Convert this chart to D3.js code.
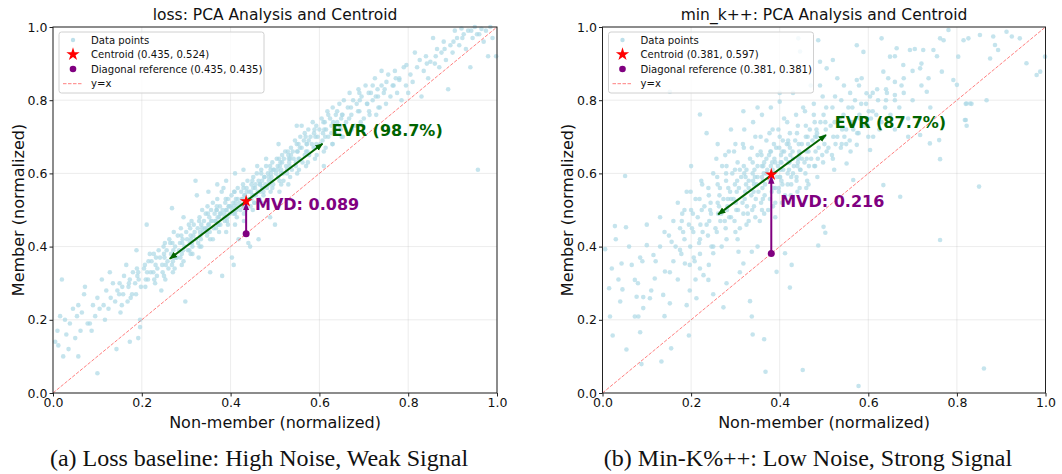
<!DOCTYPE html>
<html><head><meta charset="utf-8">
<script src="https://cdn.jsdelivr.net/npm/d3@7"></script>
<style>html,body{margin:0;padding:0;background:#fff}svg{display:block}</style>
</head><body><svg id="c" width="1062" height="474"></svg>
<script>
const panelTitles = ["loss: PCA Analysis and Centroid", "min_k++: PCA Analysis and Centroid"];
const captions = ["(a) Loss baseline: High Noise, Weak Signal", "(b) Min-K%++: Low Noise, Strong Signal"];
const tickValues = [0.0, 0.2, 0.4, 0.6, 0.8, 1.0];
const xLabel = "Non-member (normalized)";
const yLabel = "Member (normalized)";
const centroids = [[0.435, 0.524], [0.381, 0.597]];
const diagRefs = [[0.435, 0.435], [0.381, 0.381]];
const pcaStart = [[0.263, 0.367], [0.261, 0.488]];
const pcaEnd = [[0.607, 0.681], [0.5045, 0.705]];
const evrLabels = ["EVR (98.7%)", "EVR (87.7%)"];
const mvdLabels = ["MVD: 0.089", "MVD: 0.216"];

const lossPoints = [
[0.005,0.14],[0.01,0.17],[0.012,0.13],[0.016,0.21],[0.02,0.31],[0.023,0.10],[0.027,0.20],[0.03,0.16],[0.035,0.12],[0.038,0.19],
[0.045,0.23],[0.05,0.15],[0.054,0.21],[0.057,0.10],[0.057,0.24],[0.062,0.17],[0.065,0.22],[0.07,0.27],[0.072,0.29],[0.078,0.19],
[0.083,0.19],[0.087,0.17],[0.09,0.24],[0.095,0.21],[0.1,0.054],[0.1,0.26],[0.105,0.23],[0.11,0.31],[0.114,0.24],[0.117,0.20],
[0.12,0.28],[0.125,0.23],[0.128,0.33],[0.13,0.26],[0.135,0.30],[0.14,0.25],[0.143,0.12],[0.145,0.28],[0.15,0.30],[0.155,0.24],
[0.158,0.27],[0.16,0.32],[0.165,0.35],[0.17,0.29],[0.173,0.31],[0.173,0.14],[0.178,0.27],[0.18,0.33],[0.185,0.30],[0.188,0.39],
[0.19,0.32],[0.192,0.33],[0.196,0.20],[0.196,0.18],[0.192,0.15],[0.198,0.29],
[0.205,0.34],[0.207,0.35],[0.211,0.46],[0.214,0.31],[0.218,0.38],[0.22,0.33],[0.222,0.36],[0.226,0.33],[0.23,0.30],[0.232,0.37],
[0.235,0.34],[0.238,0.39],[0.241,0.37],[0.244,0.28],[0.246,0.35],[0.25,0.38],[0.252,0.41],[0.256,0.39],[0.258,0.36],[0.26,0.34],
[0.262,0.42],[0.264,0.41],[0.266,0.38],[0.268,0.505],[0.27,0.36],[0.272,0.44],[0.275,0.40],[0.277,0.37],[0.279,0.37],[0.281,0.43],
[0.284,0.39],[0.286,0.41],[0.288,0.45],[0.29,0.38],[0.292,0.42],[0.294,0.48],[0.296,0.40],[0.298,0.25],[0.3,0.44],[0.302,0.42],
[0.304,0.39],[0.306,0.46],[0.308,0.41],[0.31,0.43],[0.312,0.47],[0.314,0.40],[0.317,0.46],[0.319,0.44],[0.321,0.58],[0.322,0.42],
[0.324,0.54],[0.326,0.45],[0.328,0.37],[0.33,0.48],[0.332,0.43],[0.334,0.46],[0.336,0.50],[0.338,0.44],[0.34,0.47],[0.342,0.45],
[0.344,0.49],[0.346,0.44],[0.348,0.51],
[0.35,0.46],[0.352,0.48],[0.354,0.33],[0.356,0.50],[0.358,0.47],[0.36,0.52],[0.362,0.45],[0.364,0.49],[0.366,0.47],[0.368,0.50],
[0.369,0.50],[0.37,0.53],[0.372,0.46],[0.374,0.48],[0.376,0.51],[0.377,0.46],[0.378,0.49],[0.38,0.55],[0.381,0.32],[0.382,0.50],
[0.384,0.56],[0.386,0.48],[0.388,0.52],[0.39,0.50],[0.392,0.47],[0.394,0.53],[0.396,0.51],[0.398,0.49],[0.4,0.51],[0.402,0.54],
[0.403,0.37],[0.404,0.50],[0.406,0.52],[0.407,0.35],[0.408,0.55],[0.41,0.49],[0.412,0.53],[0.414,0.51],[0.416,0.56],[0.418,0.42],
[0.42,0.52],[0.422,0.50],[0.424,0.55],[0.426,0.53],[0.428,0.57],[0.429,0.61],[0.43,0.51],[0.432,0.54],[0.434,0.52],[0.436,0.56],
[0.438,0.58],[0.44,0.41],[0.44,0.53],[0.442,0.55],[0.444,0.40],[0.445,0.51],[0.447,0.57],[0.449,0.54],[0.451,0.59],[0.453,0.52],
[0.455,0.56],[0.457,0.54],[0.459,0.60],[0.461,0.55],[0.463,0.42],[0.463,0.58],[0.465,0.53],[0.467,0.57],[0.469,0.61],[0.471,0.56],
[0.474,0.55],[0.476,0.59],[0.478,0.57],[0.48,0.62],[0.482,0.56],[0.484,0.60],[0.486,0.58],[0.489,0.48],[0.49,0.61],[0.492,0.59],
[0.494,0.63],[0.496,0.57],[0.498,0.61],[0.5,0.46],
[0.502,0.60],[0.504,0.64],[0.506,0.62],[0.508,0.68],[0.51,0.58],[0.512,0.63],[0.514,0.61],[0.516,0.65],[0.518,0.60],[0.519,0.58],
[0.52,0.64],[0.523,0.66],[0.525,0.62],[0.527,0.60],[0.53,0.65],[0.532,0.63],[0.534,0.64],[0.536,0.67],[0.538,0.61],[0.54,0.66],
[0.542,0.64],[0.545,0.69],[0.547,0.62],[0.549,0.73],[0.55,0.66],[0.553,0.68],[0.555,0.64],[0.557,0.70],[0.56,0.67],[0.562,0.63],
[0.565,0.69],[0.567,0.71],[0.57,0.66],[0.572,0.68],[0.575,0.72],[0.577,0.65],[0.58,0.70],[0.583,0.68],[0.585,0.74],[0.588,0.71],
[0.59,0.67],[0.593,0.73],[0.596,0.70],[0.6,0.72],[0.602,0.68],[0.605,0.75],[0.608,0.71],[0.61,0.62],[0.612,0.74],[0.615,0.72],
[0.618,0.77],[0.62,0.70],[0.624,0.75],[0.627,0.73],[0.63,0.78],[0.634,0.71],[0.637,0.76],[0.64,0.74],[0.645,0.79],[0.648,0.72],
[0.652,0.76],[0.655,0.80],[0.66,0.74],[0.664,0.78],[0.668,0.82],[0.672,0.76],[0.676,0.80],[0.68,0.73],[0.684,0.79],[0.688,0.83],
[0.69,0.77],[0.695,0.81],[0.70,0.75],[0.704,0.84],[0.708,0.79],[0.712,0.77],[0.716,0.82],[0.72,0.80],[0.725,0.86],[0.728,0.76],
[0.732,0.81],[0.736,0.78],[0.74,0.84],[0.745,0.82],[0.75,0.79],[0.755,0.87],[0.76,0.81],[0.765,0.84],[0.77,0.88],[0.775,0.82],
[0.78,0.86],[0.785,0.80],[0.79,0.89],[0.795,0.84],[0.8,0.82],[0.69,0.82],[0.72,0.84],[0.74,0.88],[0.78,0.855],[0.796,0.896],
[0.805,0.87],[0.81,0.85],[0.815,0.93],[0.82,0.89],[0.826,0.91],[0.83,0.81],[0.835,0.88],[0.84,0.92],[0.845,0.86],[0.85,0.905],
[0.856,0.97],[0.86,0.90],[0.865,0.94],[0.87,0.89],[0.875,0.93],[0.88,0.96],[0.885,0.91],[0.89,0.83],[0.895,0.95],[0.9,0.93],
[0.905,0.99],[0.91,0.97],[0.915,0.95],[0.92,0.996],[0.925,0.98],[0.93,0.94],[0.935,0.99],[0.94,0.89],[0.945,0.97],[0.95,1.0],
[0.955,0.98],[0.957,0.61],[0.96,0.98],[0.965,0.995],[0.97,0.96],[0.975,0.99],[0.98,0.92],[0.985,1.0],[0.99,0.97],[0.998,0.92],
[0.35,0.55],[0.37,0.57],[0.39,0.58],[0.41,0.60],[0.43,0.49],[0.45,0.50],[0.47,0.52],[0.49,0.55],[0.51,0.55],[0.53,0.57],
[0.55,0.60],[0.57,0.62],[0.59,0.64],[0.61,0.66],[0.63,0.68],[0.65,0.70],[0.56,0.73],[0.62,0.76],[0.64,0.77],[0.36,0.42],
[0.33,0.40],[0.31,0.38],[0.29,0.35],[0.27,0.33],[0.25,0.32],[0.39,0.44],[0.41,0.46],[0.43,0.47],[0.46,0.62],[0.48,0.64],
[0.152,0.22],[0.149,0.27],[0.156,0.29],[0.168,0.25],[0.171,0.30],[0.175,0.26],[0.187,0.27],[0.193,0.31],[0.189,0.34],
[0.208,0.29],[0.212,0.33],[0.215,0.36],[0.209,0.31],[0.228,0.31],[0.231,0.35],[0.234,0.32],[0.227,0.38],
[0.247,0.33],[0.251,0.37],[0.254,0.35],[0.249,0.40],[0.253,0.31],[0.268,0.35],[0.271,0.39],[0.273,0.37],[0.269,0.41],[0.274,0.34],
[0.287,0.37],[0.291,0.41],[0.293,0.39],[0.289,0.43],[0.294,0.36],[0.307,0.39],[0.311,0.42],[0.313,0.41],[0.309,0.45],[0.314,0.38],[0.316,0.43],
[0.327,0.41],[0.331,0.44],[0.333,0.42],[0.329,0.47],[0.334,0.40],[0.336,0.45],
[0.347,0.43],[0.351,0.46],[0.353,0.44],[0.349,0.49],[0.354,0.42],[0.356,0.47],[0.346,0.45],
[0.367,0.45],[0.371,0.48],[0.373,0.46],[0.369,0.51],[0.374,0.44],[0.376,0.49],[0.366,0.47],
[0.387,0.47],[0.391,0.50],[0.393,0.48],[0.389,0.53],[0.394,0.46],[0.396,0.51],[0.386,0.49],
[0.407,0.49],[0.411,0.52],[0.413,0.50],[0.409,0.55],[0.414,0.48],[0.416,0.53],[0.406,0.51],
[0.427,0.51],[0.431,0.54],[0.433,0.52],[0.429,0.56],[0.434,0.50],[0.436,0.55],[0.426,0.53],
[0.447,0.53],[0.451,0.56],[0.453,0.54],[0.449,0.58],[0.454,0.52],[0.456,0.57],[0.446,0.55],
[0.467,0.55],[0.471,0.58],[0.473,0.56],[0.469,0.60],[0.474,0.54],[0.476,0.59],[0.466,0.57],
[0.487,0.57],[0.491,0.60],[0.493,0.58],[0.489,0.62],[0.494,0.56],[0.496,0.61],[0.486,0.59],
[0.507,0.59],[0.511,0.62],[0.513,0.60],[0.509,0.64],[0.514,0.57],[0.516,0.63],[0.506,0.61],
[0.527,0.61],[0.531,0.64],[0.533,0.62],[0.529,0.66],[0.534,0.59],[0.536,0.65],
[0.547,0.63],[0.551,0.66],[0.553,0.64],[0.549,0.68],[0.554,0.61],[0.556,0.67],
[0.567,0.65],[0.571,0.68],[0.573,0.66],[0.569,0.70],[0.574,0.63],[0.576,0.69],
[0.587,0.67],[0.591,0.70],[0.593,0.68],[0.589,0.72],[0.594,0.65],[0.607,0.69],[0.611,0.72],[0.613,0.70],[0.609,0.74],[0.614,0.67],
[0.627,0.71],[0.631,0.74],[0.633,0.72],[0.629,0.68],[0.647,0.73],[0.651,0.76],[0.653,0.70],[0.649,0.75],
[0.667,0.75],[0.671,0.78],[0.673,0.72],[0.687,0.77],[0.691,0.80],[0.693,0.74],[0.707,0.79],[0.711,0.82],[0.713,0.76],
[0.727,0.81],[0.731,0.83],[0.733,0.78],[0.747,0.83],[0.751,0.85],[0.767,0.84],[0.772,0.86],
[0.842,0.90],[0.862,0.92],[0.882,0.94],[0.902,0.96],[0.922,0.97],[0.942,0.99]
];

const minkPoints = [
[0.051,0.593],[0.028,0.456],[0.053,0.453],[0.006,0.393],[0.021,0.34],[0.043,0.354],[0.066,0.35],[0.015,0.286],[0.045,0.283],[0.036,0.31],
[0.073,0.309],[0.077,0.263],[0.092,0.262],[0.107,0.259],[0.073,0.209],[0.081,0.209],[0.017,0.209],[0.023,0.157],[0.085,0.166],[0.054,0.119],
[0.088,0.079],[0.133,0.086],[0.155,0.122],[0.195,0.157],[0.092,0.232],[0.137,0.268],[0.152,0.245],[0.141,0.332],[0.152,0.33],[0.118,0.313],
[0.115,0.377],[0.085,0.37],[0.1,0.404],[0.13,0.4],[0.156,0.413],[0.175,0.391],[0.186,0.354],[0.197,0.35],[0.208,0.36],[0.22,0.34],
[0.228,0.322],[0.239,0.309],[0.212,0.259],[0.197,0.28],[0.25,0.382],[0.269,0.4],[0.307,0.386],[0.337,0.386],[0.318,0.354],[0.337,0.209],
[0.333,0.251],[0.273,0.234],[0.339,0.16],[0.368,0.058],[0.365,0.147],[0.393,0.331],[0.412,0.382],[0.427,0.35],[0.423,0.288],[0.452,0.063],
[0.487,0.403],[0.503,0.438],[0.499,0.454],[0.578,0.019],[0.634,0.568],[0.672,0.536],[0.762,0.418],[0.762,0.639],[0.85,0.564],[0.861,0.067],
[0.83,0.791],[0.82,0.79],[0.82,0.746],[0.822,0.73],[0.739,0.682],[0.76,0.691],[0.717,0.705],[0.66,0.72],[0.604,0.664],[0.574,0.678],
[0.551,0.627],[0.55,0.68],[0.566,0.582],[0.611,0.7],
[0.152,0.823],[0.22,0.761],[0.235,0.71],[0.318,0.77],[0.4,0.796],[0.442,0.969],[0.446,0.933],[0.487,0.964],[0.491,0.905],[0.506,0.887],
[0.491,0.84],[0.52,0.91],[0.574,0.855],[0.574,0.95],[0.589,0.932],[0.63,0.969],[0.634,0.878],[0.649,0.919],[0.664,0.942],[0.679,0.896],
[0.694,0.937],[0.705,0.94],[0.717,0.887],[0.724,0.937],[0.747,0.937],[0.755,0.92],[0.762,0.969],[0.77,0.964],[0.781,0.992],[0.766,0.878],
[0.792,0.855],[0.803,0.919],[0.815,0.964],[0.826,0.969],[0.852,0.978],[0.882,0.974],[0.886,0.951],[0.893,0.937],[0.875,0.914],[0.912,0.987],
[0.924,0.974],[0.942,0.969],[0.957,0.901],[0.988,0.878],[0.98,0.869],[0.999,0.919],[0.822,0.791],[0.833,0.79],[0.867,0.8],[0.818,0.746],
[0.8,0.842],[0.736,0.86],[0.72,0.84],[0.732,0.823],[0.675,0.84],[0.66,0.814],[0.64,0.83],[0.61,0.82],[0.596,0.819],
[0.15,0.43],[0.16,0.47],[0.165,0.40],[0.17,0.52],[0.175,0.45],[0.18,0.49],[0.185,0.42],[0.19,0.55],[0.195,0.46],[0.2,0.50],
[0.205,0.44],[0.21,0.53],[0.215,0.48],[0.22,0.42],[0.225,0.57],[0.23,0.51],[0.235,0.46],[0.24,0.54],[0.245,0.49],[0.25,0.60],
[0.255,0.45],[0.26,0.52],
[0.265,0.56],[0.268,0.49],[0.27,0.62],[0.273,0.53],[0.276,0.47],[0.279,0.58],[0.282,0.51],[0.285,0.66],[0.288,0.55],[0.29,0.48],
[0.293,0.60],[0.296,0.53],[0.299,0.57],[0.302,0.50],[0.305,0.63],[0.308,0.56],[0.31,0.45],[0.313,0.59],[0.316,0.52],[0.319,0.67],
[0.322,0.55],[0.325,0.61],[0.328,0.49],[0.33,0.58],[0.333,0.64],[0.336,0.54],[0.339,0.60],[0.342,0.51],[0.345,0.70],[0.348,0.57],
[0.35,0.62],[0.352,0.55],[0.355,0.47],[0.357,0.66],[0.36,0.59],[0.362,0.53],[0.365,0.63],[0.367,0.57],[0.37,0.69],[0.372,0.61],
[0.374,0.50],[0.376,0.65],[0.378,0.58],[0.38,0.62],[0.382,0.55],[0.384,0.72],[0.386,0.60],[0.388,0.64],[0.39,0.52],[0.392,0.67],
[0.394,0.59],[0.396,0.62],[0.398,0.56],[0.4,0.70],[0.402,0.63],[0.404,0.58],[0.406,0.66],[0.408,0.61],[0.41,0.75],[0.412,0.54],
[0.414,0.64],[0.416,0.68],[0.418,0.60],[0.42,0.63],[0.423,0.71],[0.426,0.57],[0.429,0.66],[0.432,0.62],[0.435,0.69],[0.438,0.59],
[0.441,0.73],[0.444,0.65],[0.447,0.61],[0.45,0.68],[0.453,0.78],[0.456,0.63],[0.459,0.70],[0.462,0.58],[0.465,0.66],[0.468,0.72],
[0.471,0.64],[0.474,0.69],[0.477,0.76],[0.48,0.62],[0.484,0.71],[0.488,0.67],[0.492,0.74],[0.496,0.65],[0.5,0.70],
[0.26,0.57],[0.28,0.62],[0.30,0.68],[0.32,0.72],[0.34,0.74],[0.36,0.76],[0.38,0.78],[0.40,0.82],[0.30,0.44],[0.33,0.47],
[0.36,0.50],[0.39,0.48],[0.42,0.52],[0.44,0.55],[0.46,0.56],[0.28,0.42],[0.25,0.40],[0.22,0.38],[0.31,0.61],[0.33,0.56],
[0.35,0.65],[0.37,0.60],[0.39,0.63],[0.41,0.66],[0.43,0.60],[0.45,0.64],[0.34,0.58],[0.36,0.62],[0.38,0.66],[0.40,0.59],
[0.42,0.68],[0.44,0.62],[0.46,0.66],[0.48,0.70],[0.37,0.64],[0.39,0.56],[0.35,0.59],[0.43,0.64],[0.32,0.60],[0.29,0.53],
[0.505,0.78],[0.51,0.67],[0.515,0.73],[0.52,0.64],[0.525,0.81],[0.53,0.70],[0.535,0.75],[0.54,0.68],[0.545,0.84],[0.55,0.72],
[0.555,0.78],[0.56,0.66],[0.565,0.74],[0.57,0.80],[0.575,0.71],[0.58,0.76],[0.585,0.86],[0.59,0.73],[0.595,0.79],[0.6,0.70],
[0.61,0.77],[0.62,0.83],[0.63,0.74],[0.64,0.80],[0.65,0.76],[0.66,0.85],[0.67,0.78],[0.68,0.82],[0.69,0.75],[0.70,0.88],
[0.178,0.38],[0.182,0.44],[0.185,0.50],[0.179,0.47],[0.198,0.40],[0.202,0.45],[0.204,0.49],[0.199,0.55],[0.206,0.37],
[0.218,0.41],[0.221,0.46],[0.224,0.50],[0.219,0.53],[0.226,0.44],[0.223,0.58],[0.238,0.43],[0.241,0.47],[0.244,0.52],[0.239,0.56],[0.246,0.40],[0.243,0.50],
[0.258,0.44],[0.261,0.49],[0.264,0.54],[0.259,0.59],[0.266,0.47],[0.263,0.51],[0.257,0.64],
[0.278,0.45],[0.281,0.50],[0.284,0.56],[0.279,0.60],[0.286,0.48],[0.283,0.53],[0.277,0.65],
[0.298,0.47],[0.301,0.52],[0.304,0.58],[0.299,0.61],[0.306,0.50],[0.303,0.55],[0.297,0.66],[0.305,0.42],
[0.318,0.49],[0.321,0.53],[0.324,0.57],[0.319,0.62],[0.326,0.51],[0.323,0.59],[0.317,0.68],[0.325,0.46],
[0.338,0.50],[0.341,0.55],[0.344,0.59],[0.339,0.63],[0.346,0.53],[0.343,0.61],[0.337,0.67],[0.345,0.48],[0.342,0.57],
[0.358,0.52],[0.361,0.56],[0.364,0.60],[0.359,0.65],[0.366,0.54],[0.363,0.62],[0.357,0.70],[0.365,0.49],[0.362,0.58],
[0.378,0.53],[0.381,0.58],[0.384,0.61],[0.379,0.66],[0.386,0.56],[0.383,0.63],[0.377,0.71],[0.385,0.51],[0.382,0.60],[0.387,0.68],
[0.398,0.55],[0.401,0.59],[0.404,0.63],[0.399,0.67],[0.406,0.57],[0.403,0.65],[0.397,0.72],[0.405,0.52],[0.402,0.61],[0.407,0.69],
[0.418,0.57],[0.421,0.61],[0.424,0.65],[0.419,0.69],[0.426,0.59],[0.423,0.67],[0.417,0.74],[0.425,0.54],[0.422,0.63],
[0.438,0.58],[0.441,0.63],[0.444,0.66],[0.439,0.71],[0.446,0.61],[0.443,0.68],[0.437,0.76],[0.445,0.56],[0.442,0.64],
[0.458,0.60],[0.461,0.64],[0.464,0.68],[0.459,0.73],[0.466,0.62],[0.463,0.70],[0.457,0.77],[0.465,0.57],
[0.478,0.62],[0.481,0.66],[0.484,0.70],[0.479,0.74],[0.486,0.64],[0.483,0.72],[0.477,0.79],[0.485,0.59],
[0.498,0.63],[0.501,0.68],[0.504,0.72],[0.499,0.76],[0.506,0.66],[0.503,0.74],[0.497,0.81],
[0.518,0.65],[0.521,0.70],[0.524,0.74],[0.519,0.78],[0.526,0.68],[0.523,0.61],[0.538,0.67],[0.541,0.72],[0.544,0.76],[0.539,0.80],[0.546,0.70],
[0.558,0.69],[0.561,0.74],[0.564,0.78],[0.559,0.82],[0.566,0.72],[0.578,0.71],[0.581,0.75],[0.584,0.79],[0.579,0.84],
[0.598,0.73],[0.601,0.77],[0.604,0.81],[0.606,0.75],[0.618,0.76],[0.622,0.80],[0.625,0.72],[0.638,0.78],[0.642,0.82],[0.645,0.86],
[0.66,0.80],[0.68,0.86],[0.70,0.80],[0.72,0.90],[0.74,0.78],[0.66,0.92],[0.69,0.70],[0.53,0.86],[0.47,0.84],[0.43,0.82],
[0.35,0.78],[0.29,0.72],[0.26,0.68],[0.20,0.62],
[0.12,0.36],[0.14,0.44],[0.10,0.46],[0.08,0.30],[0.06,0.40],[0.16,0.36],[0.13,0.48],[0.03,0.42],[0.11,0.28],[0.17,0.31],
[0.04,0.25],[0.09,0.36],[0.14,0.21],[0.19,0.24],[0.25,0.27],[0.28,0.30],[0.31,0.33],[0.35,0.40],[0.24,0.35],[0.21,0.31]
];
const allPoints = [lossPoints, minkPoints];
const legendNames = ["Data points", "Centroid", "Diagonal reference", "y=x"];

const fmt = d3.format(".3f");
const svg = d3.select("#c");
const defs = svg.append("defs");
function mk(id, color) {
  defs.append("marker").attr("id", id).attr("viewBox", "0 0 10 10").attr("refX", 9).attr("refY", 5)
    .attr("markerWidth", 4).attr("markerHeight", 4).attr("markerUnits", "strokeWidth").attr("orient", "auto-start-reverse")
    .append("path").attr("d", "M0,1 L10,5 L0,9 z").attr("fill", color);
}
mk("ag", "#006400"); mk("ap", "#800080");

const FONT = "DejaVu Sans, sans-serif";
const panels = [{x0: 53, x1: 497}, {x0: 602.5, x1: 1045.5}];
const yTop = 27, yBot = 393;

panels.forEach((p, i) => {
  const x = d3.scaleLinear().domain([0, 1]).range([p.x0, p.x1]);
  const y = d3.scaleLinear().domain([0, 1]).range([yBot, yTop]);
  const g = svg.append("g");
  g.append("g").selectAll("line.gx").data(tickValues).join("line")
    .attr("x1", d => x(d)).attr("x2", d => x(d)).attr("y1", yTop).attr("y2", yBot)
    .attr("stroke", "#b0b0b0").attr("stroke-opacity", 0.3).attr("stroke-width", 0.8);
  g.append("g").selectAll("line.gy").data(tickValues).join("line")
    .attr("y1", d => y(d)).attr("y2", d => y(d)).attr("x1", p.x0).attr("x2", p.x1)
    .attr("stroke", "#b0b0b0").attr("stroke-opacity", 0.3).attr("stroke-width", 0.8);
  g.append("g").selectAll("circle").data(allPoints[i]).join("circle")
    .attr("cx", d => x(d[0])).attr("cy", d => y(d[1])).attr("r", 2.3)
    .attr("fill", "#add8e6").attr("fill-opacity", 0.7);
  g.append("line").attr("x1", x(0)).attr("y1", y(0)).attr("x2", x(1)).attr("y2", y(1))
    .attr("stroke", "red").attr("stroke-opacity", 0.5).attr("stroke-width", 1).attr("stroke-dasharray", "3.5,1.5");
  g.append("line").attr("x1", x(pcaStart[i][0])).attr("y1", y(pcaStart[i][1]))
    .attr("x2", x(pcaEnd[i][0])).attr("y2", y(pcaEnd[i][1]))
    .attr("stroke", "#006400").attr("stroke-width", 2)
    .attr("marker-start", "url(#ag)").attr("marker-end", "url(#ag)");
  g.append("line").attr("x1", x(diagRefs[i][0])).attr("y1", y(diagRefs[i][1]))
    .attr("x2", x(centroids[i][0])).attr("y2", y(centroids[i][1]) + 2)
    .attr("stroke", "#800080").attr("stroke-width", 2).attr("marker-end", "url(#ap)");
  g.append("circle").attr("cx", x(diagRefs[i][0])).attr("cy", y(diagRefs[i][1])).attr("r", 3.5).attr("fill", "#800080");
  g.append("path").attr("d", d3.symbol(d3.symbolStar, 50)())
    .attr("transform", `translate(${x(centroids[i][0])},${y(centroids[i][1])})`).attr("fill", "red");
  g.append("text").attr("x", x(pcaEnd[i][0] + 0.02)).attr("y", y(pcaEnd[i][1] + 0.035))
    .attr("dominant-baseline", "central").attr("font-family", FONT).attr("font-weight", "bold")
    .attr("font-size", 16).attr("fill", "#006400").text(evrLabels[i]);
  g.append("text").attr("x", x(centroids[i][0] + 0.02)).attr("y", y((centroids[i][1] + diagRefs[i][1]) / 2 + 0.035))
    .attr("dominant-baseline", "central").attr("font-family", FONT).attr("font-weight", "bold")
    .attr("font-size", 16).attr("fill", "#800080").text(mvdLabels[i]);
  g.append("rect").attr("x", p.x0).attr("y", yTop).attr("width", p.x1 - p.x0).attr("height", yBot - yTop)
    .attr("fill", "none").attr("stroke", "#222").attr("stroke-width", 1);
  const ax = g.append("g").attr("transform", `translate(0,${yBot})`)
    .call(d3.axisBottom(x).tickValues(tickValues).tickFormat(d3.format(".1f")).tickSizeOuter(0).tickSize(3.5).tickPadding(2));
  const ay = g.append("g").attr("transform", `translate(${p.x0},0)`)
    .call(d3.axisLeft(y).tickValues(tickValues).tickFormat(d3.format(".1f")).tickSizeOuter(0).tickSize(3.5).tickPadding(2));
  [ax, ay].forEach(a => {
    a.select(".domain").remove();
    a.selectAll("line").attr("stroke", "#222");
    a.selectAll("text").attr("font-family", FONT).attr("font-size", 12.5).attr("fill", "#111");
  });
  g.append("text").attr("x", (p.x0 + p.x1) / 2).attr("y", 15).attr("text-anchor", "middle")
    .attr("dominant-baseline", "central").attr("font-family", FONT).attr("font-size", 15.5).attr("fill", "#111").text(panelTitles[i]);
  g.append("text").attr("x", (p.x0 + p.x1) / 2).attr("y", 422).attr("text-anchor", "middle")
    .attr("dominant-baseline", "central").attr("font-family", FONT).attr("font-size", 16).attr("fill", "#111").text(xLabel);
  g.append("text").attr("transform", `translate(${p.x0 - 35},${(yTop + yBot) / 2}) rotate(-90)`).attr("text-anchor", "middle")
    .attr("dominant-baseline", "central").attr("font-family", FONT).attr("font-size", 16).attr("fill", "#111").text(yLabel);
  g.append("text").attr("x", (p.x0 + p.x1) / 2 - 16).attr("y", 458).attr("text-anchor", "middle")
    .attr("dominant-baseline", "central").attr("font-family", "Liberation Serif, Times New Roman, serif").attr("font-size", 24)
    .attr("fill", "#111").text(captions[i]);
  const lx = p.x0 + 6, ly = 32;
  const lg = g.append("g");
  lg.append("rect").attr("x", lx).attr("y", ly).attr("width", 205).attr("height", 61).attr("rx", 2.5)
    .attr("fill", "white").attr("fill-opacity", 0.8).attr("stroke", "#d0d0d0").attr("stroke-width", 1);
  const labels = [legendNames[0],
    `${legendNames[1]} (${fmt(centroids[i][0])}, ${fmt(centroids[i][1])})`,
    `${legendNames[2]} (${fmt(diagRefs[i][0])}, ${fmt(diagRefs[i][1])})`,
    legendNames[3]];
  const rowY = [40, 54.3, 69, 83.7];
  const mx = lx + 14;
  lg.append("circle").attr("cx", mx).attr("cy", rowY[0]).attr("r", 2.2).attr("fill", "#add8e6").attr("fill-opacity", 0.8);
  lg.append("path").attr("d", d3.symbol(d3.symbolStar, 55)()).attr("transform", `translate(${mx},${rowY[1]})`).attr("fill", "red");
  lg.append("circle").attr("cx", mx).attr("cy", rowY[2]).attr("r", 3.3).attr("fill", "#800080");
  lg.append("line").attr("x1", mx - 10).attr("x2", mx + 9).attr("y1", rowY[3]).attr("y2", rowY[3])
    .attr("stroke", "red").attr("stroke-opacity", 0.5).attr("stroke-dasharray", "3.5,1.5");
  lg.selectAll("text.l").data(labels).join("text").attr("x", lx + 32).attr("y", (d, k) => rowY[k])
    .attr("dominant-baseline", "central").attr("font-family", FONT).attr("font-size", 10.1).attr("fill", "#111").text(d => d);
});
</script></body></html>
